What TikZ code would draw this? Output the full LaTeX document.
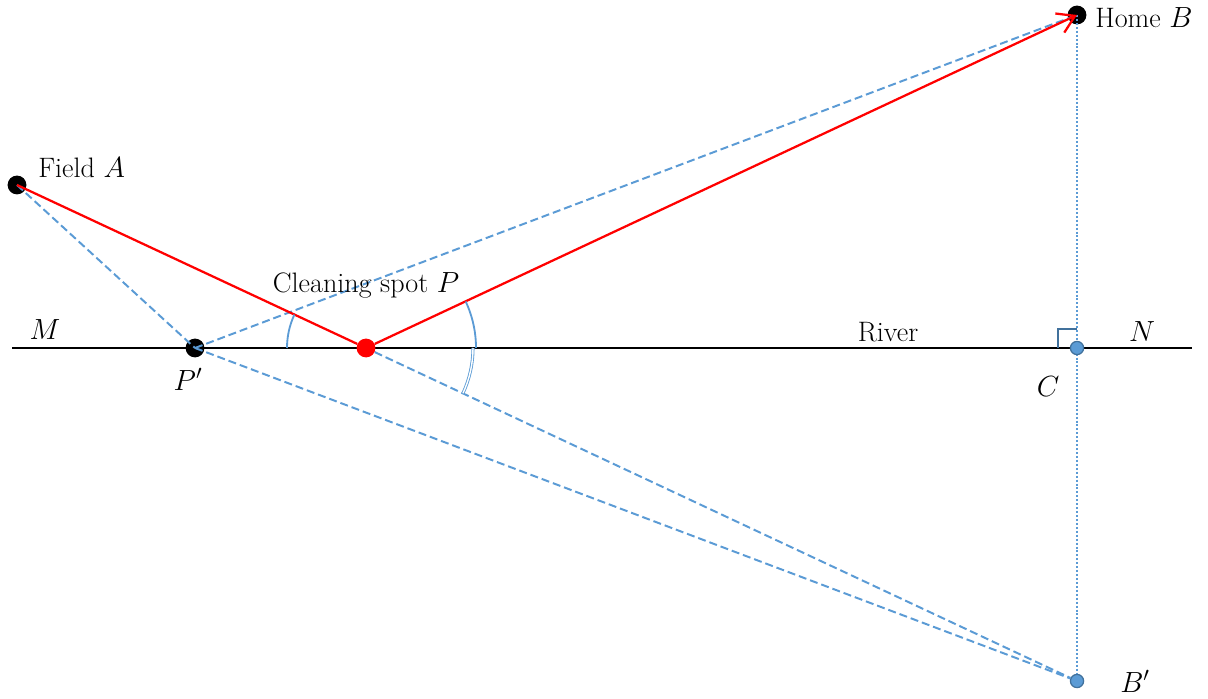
\documentclass[tikz,border=0pt]{standalone}
\usepackage{tikz}
\usetikzlibrary{arrows.meta,calc}
\definecolor{Cornflower}{HTML}{5B9BD5}
\definecolor{Steel}{HTML}{41719C}
\definecolor{Scarlet}{HTML}{FF0000}

\begin{document}
\begin{tikzpicture}[x=0.025cm,y=0.025cm,
    font=\fontsize{20}{24}\selectfont,
    dot/.style={circle,fill=black,inner sep=0pt,minimum size=0.47cm},
    spot/.style={circle,fill=Scarlet,inner sep=0pt,minimum size=0.47cm},
    tack/.style={circle,fill=Cornflower,draw=Steel,line width=0.9pt,inner sep=0pt,minimum size=0.33cm},
    route/.style={Scarlet,line width=1.6pt},
    guide/.style={Cornflower,line width=1.4pt,dash pattern=on 5.7pt off 2.8pt},
    plumb/.style={Cornflower,line width=1.5pt,dash pattern=on 1.4pt off 1.4pt},
    angmark/.style={Cornflower,line width=1.3pt},
    lbl/.style={anchor=base,inner sep=0pt}]
    \useasboundingbox (0,0) rectangle (1208,698);
    \coordinate (M) at (12,350);
    \coordinate (N) at (1192,350);
    \draw[line width=1.6pt] (M) -- (N);
    \node[dot] (A) at (17,513) {};
    \node[dot] (B) at (1077,683) {};
    \node[dot] (Pp) at (195,350) {};
    \node[tack] (Bp) at (1077,17) {};
    \draw[plumb] (B.center) -- (Bp);
    \draw[Steel,line width=1.5pt] ($(M-|Bp)+(-19,0)$) -- ++(0,19) -- ++(19,0);
    \node[tack] (C) at (1077,350) {};
    \draw[guide] (A.center) -- (Pp.center);
    \draw[guide] (Pp.center) -- (B.center);
    \draw[guide] (Pp.center) -- (Bp);
    \node[spot] (P) at (366,350) {};
    \draw[guide] (P) -- (Bp);
    \draw[route] (A.center) -- (P);
    \draw[route,-{Straight Barb[length=12pt,width=15pt]}] (P) -- (B.center);
    \draw[angmark] ($(P.center)+(180:79)$) arc[start angle=180,end angle=155,radius=79];
    \draw[angmark] ($(P.center)+(0:110)$) arc[start angle=0,end angle=25,radius=110];
    \draw[angmark,line width=0.6pt,double=white,double distance=1pt]
      ($(P.center)+(0:107)$) arc[start angle=0,end angle=-25,radius=107];
    \node[lbl,anchor=base west] (tA) at (38,520) {Field $A$};
    \node[lbl,anchor=base west] (tB) at (1095,670) {Home $B$};
    \node[lbl] (tP) at (366,405) {Cleaning spot $P$};
    \node[lbl] (tM) at (45,358) {$M$};
    \node[lbl] (tN) at (1142,356) {$N$};
    \node[lbl] (tRiver) at (888,356) {River};
    \node[lbl] (tPp) at (188,308) {$P'$};
    \node[lbl] (tC) at (1048,301) {$C$};
    \node[lbl] (tBp) at (1135,6) {$B'$};
  \end{tikzpicture}
\end{document}
